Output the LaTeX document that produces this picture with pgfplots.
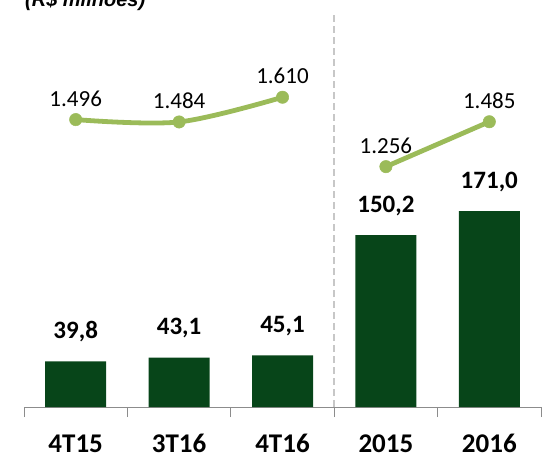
\documentclass[border=0pt]{standalone}
\usepackage{pgfplots}
\pgfplotsset{compat=1.18}
\usepackage{fontspec}
\setmainfont{Carlito}
\newfontfamily\arial{Liberation Sans}

\definecolor{barverde}{HTML}{074519}
\definecolor{linhaverde}{HTML}{9BBB59}
\definecolor{eixo}{HTML}{8C8C8C}

\begin{document}
\begin{tikzpicture}[x=1pt,y=1pt]
% barras (R$ milhoes)
\begin{axis}[
    at={(24pt,51pt)}, anchor=south west,
    scale only axis, width=517pt, height=397pt,
    xmin=-0.5, xmax=4.5, ymin=0, ymax=346.7,
    axis x line*=bottom, axis y line=none,
    axis line style={eixo, line width=1pt},
    xtick={0,1,2,3,4},
    xticklabels={4T15,3T16,4T16,2015,2016},
    major tick length=0pt,
    minor xtick={-0.5,0.5,1.5,2.5,3.5,4.5},
    minor tick length=10pt,
    tick align=outside,
    minor tick style={eixo, line width=1pt},
    xticklabel style={font=\fontsize{27}{32}\selectfont\bfseries, anchor=base, yshift=-45pt},
    ybar, bar width=61pt,
    nodes near coords={\pgfmathprintnumber[fixed,precision=1,zerofill,use comma,assume math mode=true]{\pgfplotspointmeta}},
    every node near coord/.append style={font=\fontsize{25}{30}\selectfont\bfseries, anchor=base, inner sep=0pt, yshift=23pt},
    clip=false,
]
\addplot[fill=barverde, draw=none] coordinates {(0,39.8) (1,43.1) (2,45.1) (3,150.2) (4,171.0)};
\draw[dash pattern=on 7pt off 4pt, color=black!22, line width=1.5pt] (axis cs:2.5,0) -- (axis cs:2.5,343);
\end{axis}
% linha (volume)
\begin{axis}[
    at={(24pt,51pt)}, anchor=south west,
    scale only axis, width=517pt, height=397pt,
    xmin=-0.5, xmax=4.5, ymin=30, ymax=2055,
    hide axis, clip=false,
    nodes near coords={\pgfmathprintnumber[1000 sep={.},assume math mode=true]{\pgfplotspointmeta}},
    every node near coord/.append style={font=\fontsize{23}{27}\selectfont, anchor=base, inner sep=0pt, yshift=13.5pt, text=black},
]
\addplot[smooth, tension=0.55, color=linhaverde, line width=4.8pt, mark=*, mark size=6.2pt, mark options={solid, fill=linhaverde, draw=linhaverde, line width=0.5pt}]
  coordinates {(0,1496) (1,1484) (2,1610)};
\addplot[smooth, color=linhaverde, line width=4.8pt, mark=*, mark size=6.2pt, mark options={solid, fill=linhaverde, draw=linhaverde, line width=0.5pt}]
  coordinates {(3,1256) (4,1485)};
\end{axis}
\node[anchor=base west, inner sep=0pt, font=\arial\bfseries\itshape\fontsize{20}{24}\selectfont] at (25,451) {(R\$ milhões)};
\pgfresetboundingbox
\path[use as bounding box] (0,0) rectangle (551,458);
\end{tikzpicture}
\end{document}
